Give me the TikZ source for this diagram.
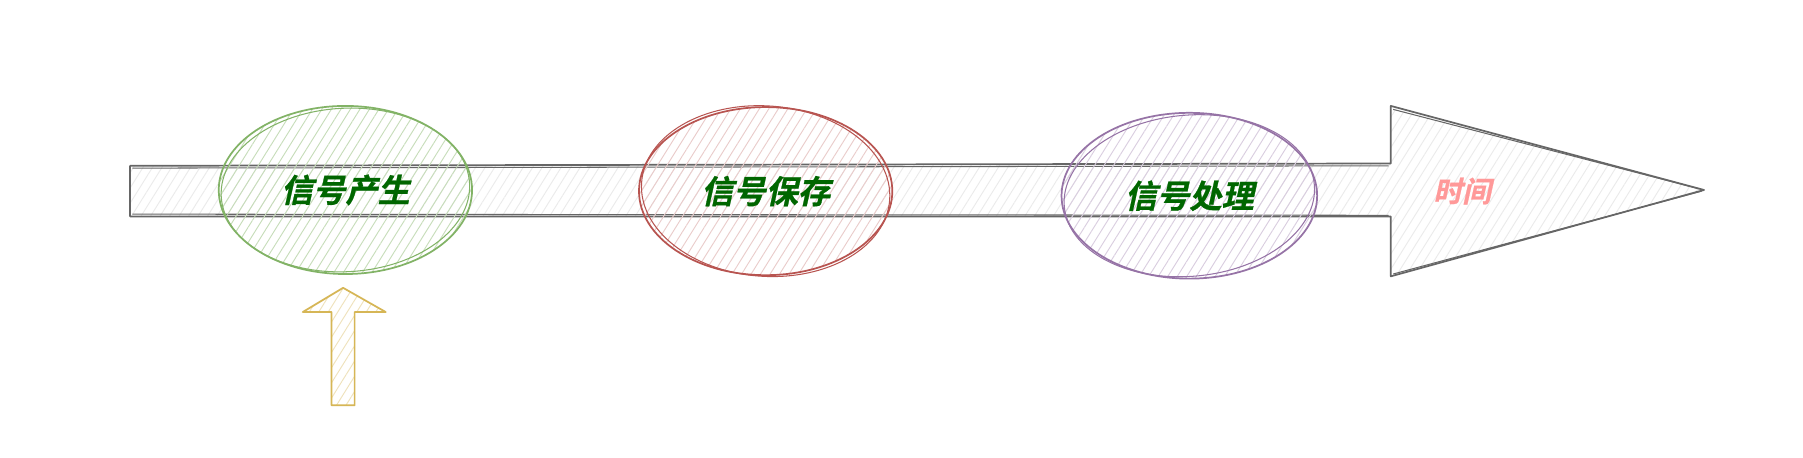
\documentclass[tikz,border=0pt]{standalone}
\usepackage{fontspec}
\newfontfamily\cjk[FakeSlant=0.22,FakeBold=0.8]{Noto Sans CJK SC Bold}
\usetikzlibrary{shapes.geometric,patterns.meta}
\definecolor{linegray}{HTML}{666666}
\definecolor{gstroke}{HTML}{82B366}
\definecolor{rstroke}{HTML}{B85450}
\definecolor{pstroke}{HTML}{9673A6}
\definecolor{ystroke}{HTML}{D6B656}
\definecolor{textgreen}{HTML}{006600}
\definecolor{timepink}{HTML}{FF9999}
\begin{document}
\begin{tikzpicture}[
    x=1pt, y=-1pt,
    sketch/.style={line width=1.5pt, line join=round},
    hatch/.style={pattern={Lines[angle=58,distance=7pt,line width=0.8pt]}, pattern color=#1},
    stage/.style={ellipse, minimum width=220pt, minimum height=146pt, line width=1.5pt,
      font=\cjk\fontsize{28}{32}\selectfont, text=textgreen}
]
  \fill[white] (0,0) rectangle (1566,397);
  \useasboundingbox (0,0) rectangle (1566,397);
  % the time line
  \path[hatch=gray!16] (113,144) -- (1208,142) -- (1208,92) -- (1480,165)
    -- (1208,240) -- (1208,188) -- (113,188) -- cycle;
  \draw[sketch, draw=linegray] (113,144) -- (1208,142) -- (1208,92) -- (1480,165)
    -- (1208,240) -- (1208,188) -- (113,188) -- cycle;
  \draw[linegray, line width=0.9pt] (115,146) -- (1206,144) (1210,95) -- (1476,164)
    (1210,238) -- (1478,166) (115,186) -- (1206,187);
  % the three stages
  \node[stage, draw=gstroke, hatch=gstroke!45] (gen) at (300,165) {信号产生};
  \node[stage, draw=rstroke, hatch=rstroke!30] (save) at (665,166) {信号保存};
  \node[stage, draw=pstroke, hatch=pstroke!35, minimum width=222pt, minimum height=144pt] (proc) at (1033,170) {信号处理};
  \draw[gstroke, line width=0.9pt, rotate around={3:(gen.center)}] (gen.center) ellipse (108 and 71);
  \draw[rstroke, line width=0.9pt, rotate around={-4:(save.center)}] (save.center) ellipse (108 and 74);
  \draw[pstroke, line width=0.9pt, rotate around={5:(proc.center)}] (proc.center) ellipse (109 and 70);
  \node[font=\cjk\fontsize{25}{29}\selectfont, text=timepink] (time) at (1270,166) {时间};
  % the start marker
  \draw[sketch, draw=ystroke, hatch=ystroke!40] (298,250) -- (335,271) -- (308,271) -- (308,352)
    -- (288,352) -- (288,271) -- (263,271) -- cycle;
\end{tikzpicture}
\end{document}
